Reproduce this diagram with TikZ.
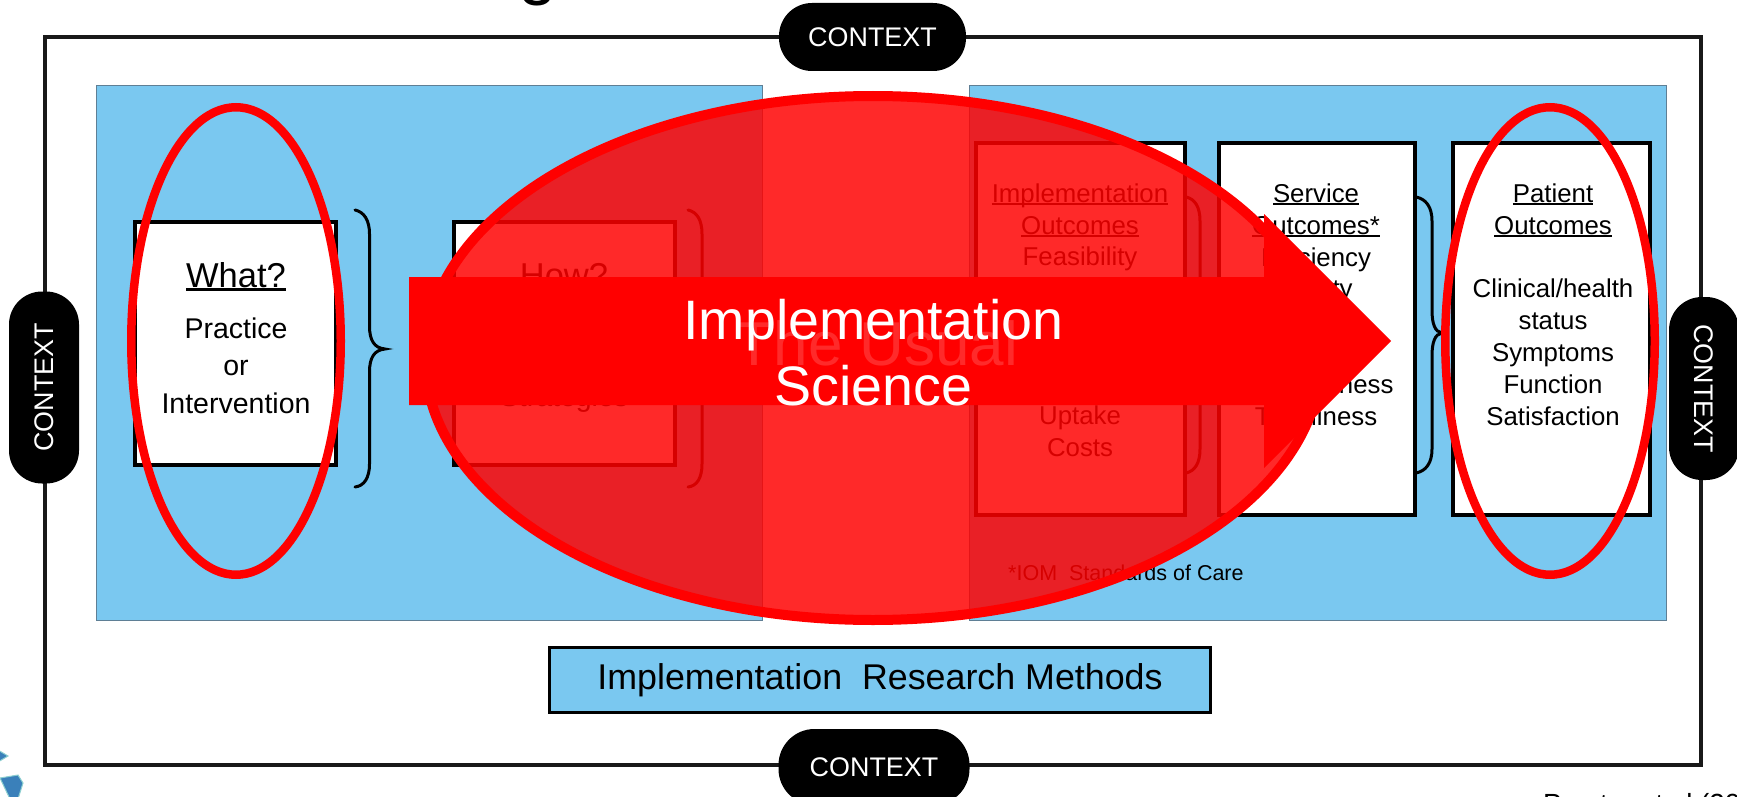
\documentclass[tikz,border=0pt]{standalone}
\usepackage{fontspec}
\setmainfont{Liberation Sans}
\usetikzlibrary{shapes.geometric}
\definecolor{panelblue}{HTML}{7AC8F0}
\definecolor{panelline}{HTML}{5F7F95}
\definecolor{logoblue}{HTML}{3A80BA}
\definecolor{logoteal}{HTML}{8CCFD0}
\definecolor{usualred}{HTML}{FF2A2A}
\newcommand{\ulin}[1]{\setbox0=\hbox{#1}\rlap{\rule[-0.12em]{\wd0}{0.08em}}\box0}
\newcommand{\fs}[2]{\fontsize{#1}{#2}\selectfont}
\tikzset{
  frame/.style={draw=black!90,line width=3.5pt,inner sep=0pt,outer sep=0pt},
  panel/.style={draw=panelline,line width=1pt,fill=panelblue,inner sep=0pt,outer sep=0pt},
  whitebox/.style={draw=black,line width=4pt,fill=white,inner sep=0pt,outer sep=0pt},
  methodbox/.style={draw=black,line width=3.5pt,fill=panelblue,inner sep=0pt,outer sep=0pt,font=\fs{35.8}{40}},
  pill/.style={fill=black,text=white,rounded corners=33pt,inner sep=0pt,outer sep=0pt,font=\fs{26.9}{30}},
  boxtext/.style={anchor=base,align=center,inner sep=0pt,outer sep=0pt,font=\fs{25.8}{31.8}},
  whattext/.style={anchor=base,inner sep=0pt,outer sep=0pt,font=\fs{28.5}{34}},
  curly/.style={draw=black,line width=3pt,line cap=round},
  smalloval/.style={ellipse,draw=red,line width=8.5pt,minimum width=209.5pt,minimum height=467.5pt,inner sep=0pt,outer sep=0pt},
  bigoval/.style={ellipse,draw=red,line width=10pt,fill=red,fill opacity=0.84,minimum width=896pt,minimum height=524pt,inner sep=0pt,outer sep=0pt},
  logopart/.style={fill=logoblue,draw=logoteal,line width=1pt},
}
\begin{document}
\begin{tikzpicture}[x=1pt,y=-1pt]
\useasboundingbox (0,0) rectangle (1737,797);
\fill[white] (0,0) rectangle (1737,797);
% cropped title letter and logo
\node[anchor=base west,inner sep=0pt,font=\fs{70}{80}] (titleg) at (518,-8) {g};
\fill[logopart] (-2,750) -- (8,756) -- (-2,762) -- cycle;
\fill[logopart] (0,778) -- (18,775) -- (23,783) -- (18,799) -- (10,799) -- cycle;
% frame
\node[frame,minimum width=1656pt,minimum height=728pt] (outer) at (873,401) {};
% pills
\node[pill,minimum width=187pt,minimum height=68pt] (ctop) at (872.5,37) {CONTEXT};
\node[pill,minimum width=191pt,minimum height=76pt,rounded corners=36pt] (cbot) at (874,767) {CONTEXT};
\node[pill,rotate=90,minimum width=192pt,minimum height=70pt] (cleft) at (44,387.5) {CONTEXT};
\node[pill,rotate=-90,minimum width=183pt,minimum height=70pt] (cright) at (1704,388.5) {CONTEXT};
% panels
\node[panel,minimum width=666pt,minimum height=534pt] (pleft) at (429,353) {};
\node[panel,minimum width=696.5pt,minimum height=534pt] (pright) at (1317.75,353) {};
% boxes
\node[whitebox,minimum width=201pt,minimum height=243pt] (what) at (235,343.5) {};
\node[whitebox,minimum width=221pt,minimum height=243pt] (how) at (564,343.5) {};
\node[whitebox,minimum width=209pt,minimum height=372pt] (impl) at (1080.5,329) {};
\node[whitebox,minimum width=196pt,minimum height=372pt] (serv) at (1317.25,329) {};
\node[whitebox,minimum width=197pt,minimum height=372pt] (pat) at (1551.5,329) {};
\node[methodbox,minimum width=661pt,minimum height=65pt] (meth) at (880,680) {\raisebox{-2pt}{Implementation~~Research Methods}};
% box texts
\node[anchor=base,inner sep=0pt,font=\fs{34.5}{40}] (whath) at (236,287) {\ulin{What?}};
\node[whattext] (whata) at (236,338) {Practice};
\node[whattext] (whatb) at (236,375) {or};
\node[whattext] (whatc) at (236,413) {Intervention};
\node[anchor=base,inner sep=0pt,font=\fs{34.5}{40}] (howh) at (564,287) {\ulin{How?}};
\node[whattext] (howb) at (564,368) {Implementation};
\node[whattext] (howc) at (564,406) {Strategies};
\node[boxtext] (impltxt) at (1080,456.7) {\ulin{Implementation}\\\ulin{Outcomes}\\Feasibility\\Fidelity\\Penetration\\Acceptability\\Sustainability\\Uptake\\Costs};
\node[boxtext] (servtxt) at (1316,425) {\ulin{Service}\\\ulin{Outcomes*}\\Efficiency\\Safety\\Equity\\Patient-\\centeredness\\Timeliness};
\node[boxtext] (pattxt) at (1553,425) {\ulin{Patient}\\\ulin{Outcomes}\\~\\Clinical/health\\status\\Symptoms\\Function\\Satisfaction};
\node[anchor=base west,inner sep=0pt,font=\fs{21.5}{26}] (iom) at (1008,580) {*IOM~~Standards~of~Care};
% braces
\draw[curly] (355,210) .. controls (364,212) and (369.5,220) .. (369.5,234) -- (369.5,326) .. controls (369.5,340) and (374,348) .. (385,349) .. controls (374,350) and (369.5,358) .. (369.5,372) -- (369.5,464) .. controls (369.5,478) and (364,486) .. (355,487);
\draw[curly] (688,210) .. controls (697,212) and (702,220) .. (702,234) -- (702,326) .. controls (702,340) and (706,348) .. (717,349) .. controls (706,350) and (702,358) .. (702,372) -- (702,464) .. controls (702,478) and (697,486) .. (688,487);
\draw[curly] (1186,197) .. controls (1195,199) and (1200,207) .. (1200,221) -- (1200,312) .. controls (1200,326) and (1204,334) .. (1215,335) .. controls (1204,336) and (1200,344) .. (1200,358) -- (1200,449) .. controls (1200,463) and (1195,471) .. (1186,473);
\draw[curly] (1416,197) .. controls (1426,199) and (1432,207) .. (1432,221) -- (1432,310) .. controls (1432,324) and (1435,332) .. (1442,333) .. controls (1435,334) and (1432,342) .. (1432,356) -- (1432,449) .. controls (1432,463) and (1426,471) .. (1416,473);
% small ovals
\node[smalloval] (ovwhat) at (236,341) {};
\node[smalloval] (ovpat) at (1550,341) {};
% big oval and arrow
\node[bigoval] (ovbig) at (873,358) {};
\fill[red] (409,277) -- (1264,277) -- (1264,214) -- (1391,341) -- (1264,468) -- (1264,405) -- (409,405) -- cycle;
\node[anchor=base,inner sep=0pt,text=usualred,font=\fs{62}{66}] (usual) at (877,365) {The Usual};
\node[anchor=base,align=center,inner sep=0pt,text=white,font=\fs{55.6}{66}] (sci) at (873.5,405) {Implementation\\Science};
% citation
\node[anchor=base west,inner sep=0pt,font=\fs{27.7}{32}] (cite) at (1543,813) {Proctor et al (2009)};
\end{tikzpicture}
\end{document}
